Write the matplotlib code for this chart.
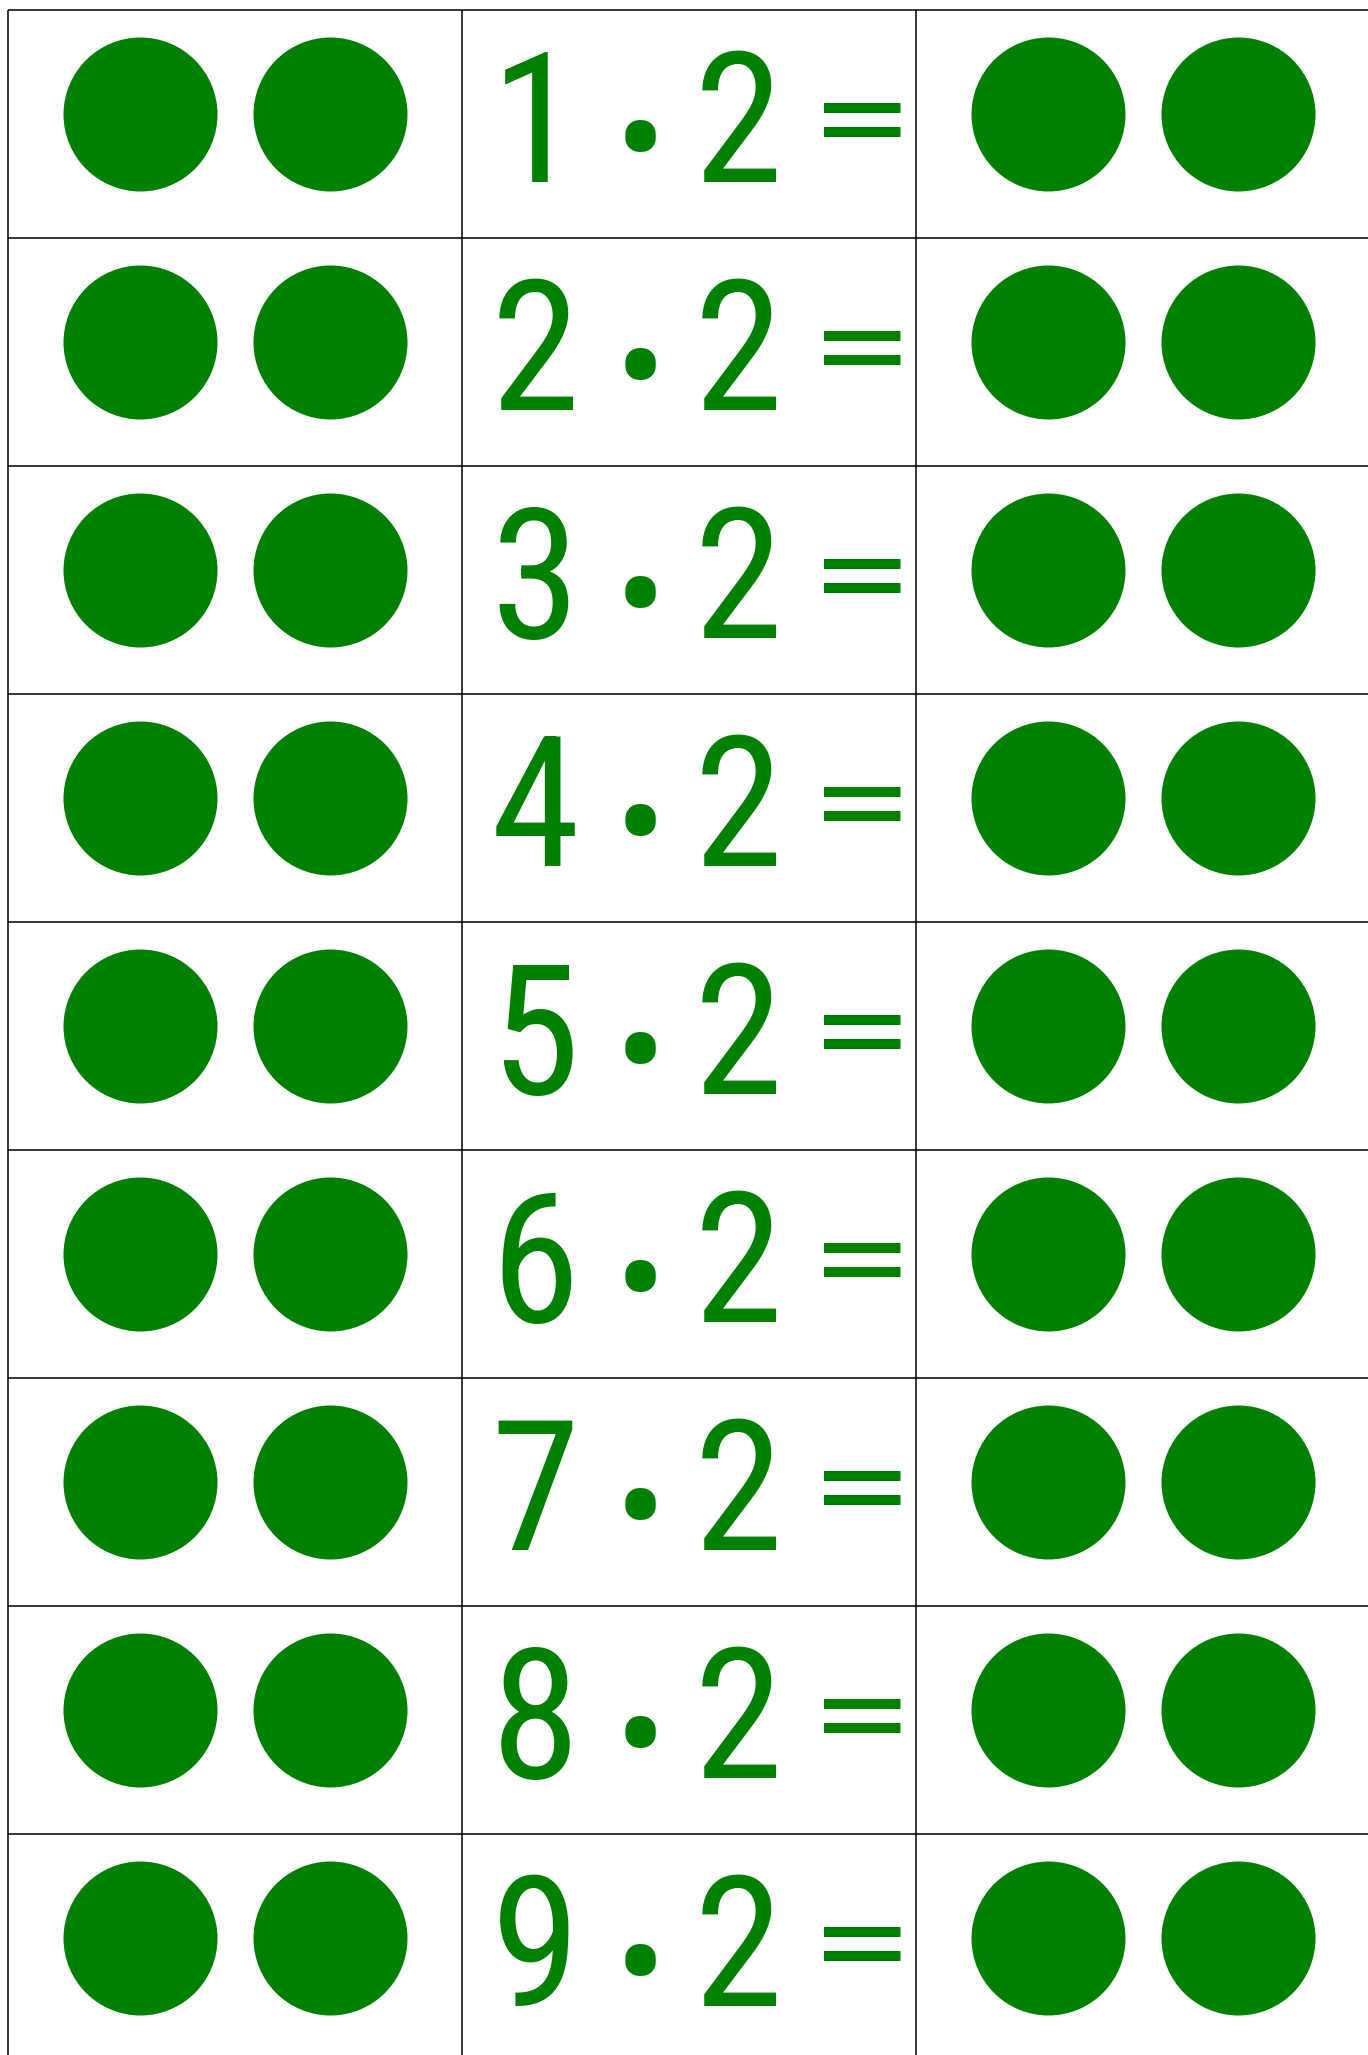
import matplotlib
matplotlib.use("Agg")
import matplotlib.pyplot as plt

# worksheet data: a · 2 = ..., with dots on both sides
numbers = [1, 2, 3, 4, 5, 6, 7, 8, 9]
factor = 2
left_dots = [2, 2, 2, 2, 2, 2, 2, 2, 2]
right_dots = [2, 2, 2, 2, 2, 2, 2, 2, 2]

green = "#008000"
W, H = 1368, 2055
cell_w, cell_h = 454, 228
x0, y0 = 8, 10

plt.rcParams['font.family'] = ['Roboto Condensed', 'Roboto', 'DejaVu Sans']

fig = plt.figure(figsize=(W / 100, H / 100), dpi=100)
ax = fig.add_axes([0, 0, 1, 1])
# one data unit = one table cell
ax.set_xlim(-x0 / cell_w, (W - x0) / cell_w)
ax.set_ylim((H - y0) / cell_h, -y0 / cell_h)
ax.axis("off")

n_rows = len(numbers)

# grid
for c in range(4):
    ax.plot([c, c], [0, n_rows], color="black", lw=1.1, solid_capstyle="butt")
for r in range(n_rows + 1):
    ax.plot([0, 3], [r, r], color="black", lw=1.1, solid_capstyle="butt")

dot_size = (154 * 0.72) ** 2
slot = [0.291, 0.709]

for r, (a, nl, nr) in enumerate(zip(numbers, left_dots, right_dots)):
    cy = r + 0.456
    ax.scatter([slot[i] for i in range(nl)], [cy] * nl, s=dot_size,
               color=green, linewidths=0, zorder=3)
    ax.scatter([2 + slot[i] for i in range(nr)], [cy] * nr, s=dot_size,
               color=green, linewidths=0, zorder=3)

    base = r + 0.754
    kw = dict(color=green, ha="center", va="baseline")
    ax.text(1 + 0.161, base, str(a), fontsize=130, **kw)
    ax.text(1 + 0.392, r + 0.798, "•", fontsize=110,
            family=['Roboto', 'DejaVu Sans'], **kw)
    ax.text(1 + 0.608, base, str(factor), fontsize=130, **kw)
    ax.text(1 + 0.881, r + 0.651, "=", fontsize=88,
            family=['DejaVu Sans'], **kw)

fig.savefig("out.png", dpi=100)
